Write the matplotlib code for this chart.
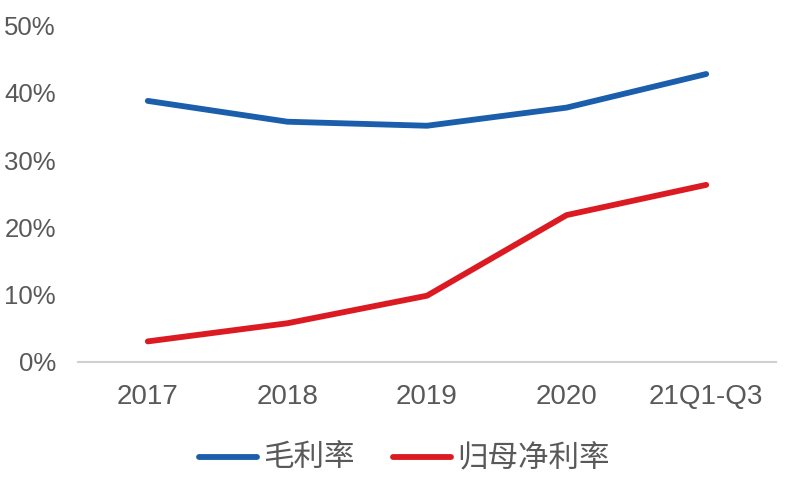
import matplotlib
matplotlib.use('Agg')
import matplotlib.pyplot as plt

# values (percent)
categories = ['2017', '2018', '2019', '2020', '21Q1-Q3']
gross_margin = [38.8, 35.7, 35.1, 37.8, 42.8]      # 毛利率
net_margin = [3.0, 5.7, 9.8, 21.8, 26.3]           # 归母净利率
y_ticks = [0, 10, 20, 30, 40, 50]

plt.rcParams['font.family'] = ['Noto Sans CJK SC', 'DejaVu Sans']
tick_font = ['Liberation Sans', 'DejaVu Sans']

fig = plt.figure(figsize=(8, 4.84), dpi=100)
ax = fig.add_axes([0.0975, 0.253, 0.8725, 0.694])

x = range(len(categories))
ax.plot(x, gross_margin, color='#1B5EAB', linewidth=4.2, solid_capstyle='round',
        label='毛利率')
ax.plot(x, net_margin, color='#DC1A22', linewidth=4.2, solid_capstyle='round',
        label='归母净利率')

ax.set_xlim(-0.5, len(categories) - 0.5)
ax.set_ylim(0, 50)
ax.set_xticks(list(x))
ax.set_xticklabels(categories, family=tick_font, fontsize=20)
ax.set_yticks(y_ticks)
ax.set_yticklabels([f'{v}%' for v in y_ticks], family=tick_font, fontsize=18.5)
ax.tick_params(axis='both', length=0, colors='#595959')
ax.tick_params(axis='x', pad=16)
ax.tick_params(axis='y', pad=16)

for side in ['top', 'right', 'left']:
    ax.spines[side].set_visible(False)
ax.spines['bottom'].set_color('#D0D0D0')
ax.spines['bottom'].set_linewidth(1.5)

fig.legend(loc='center', bbox_to_anchor=(0.505, 0.052), ncol=2, frameon=False,
           fontsize=22, handlelength=1.9, columnspacing=1.25, handletextpad=0.2,
           labelcolor='#595959')

fig.savefig('out.png', dpi=100)
